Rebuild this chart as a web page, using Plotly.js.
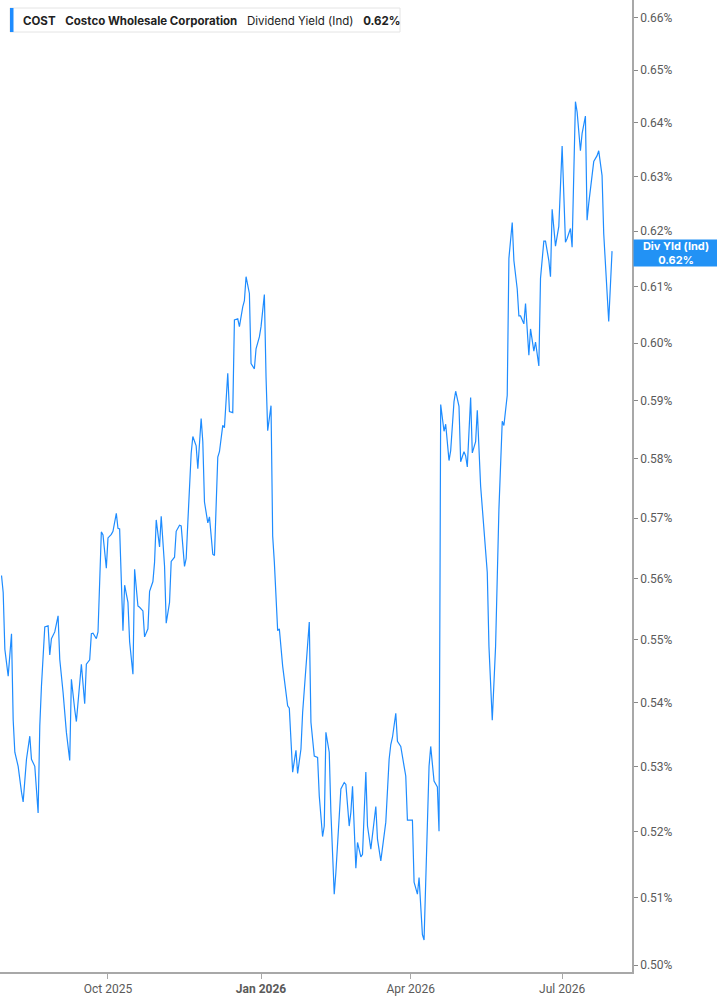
<!DOCTYPE html>
<html>
<head>
<meta charset="utf-8">
<script src="https://cdn.plot.ly/plotly-3.0.1.min.js"></script>
<style>
  html, body { margin: 0; padding: 0; background: #fff; }
  #chart { width: 717px; height: 1005px; }
</style>
</head>
<body>
<div id="chart"></div>
<script>
// COST dividend yield (indicated), daily, Jul 2025 - Jul 2026
const dates = [
  '2025-07-29','2025-07-30','2025-07-31','2025-08-01','2025-08-02','2025-08-04','2025-08-05','2025-08-06','2025-08-08','2025-08-10',
  '2025-08-11','2025-08-13','2025-08-15','2025-08-16','2025-08-18','2025-08-20','2025-08-21','2025-08-22','2025-08-24','2025-08-26',
  '2025-08-27','2025-08-28','2025-08-30','2025-09-01','2025-09-02','2025-09-04','2025-09-06','2025-09-08','2025-09-09','2025-09-11',
  '2025-09-12','2025-09-15','2025-09-17','2025-09-18','2025-09-20','2025-09-21','2025-09-22','2025-09-24','2025-09-25','2025-09-27',
  '2025-09-28','2025-09-30','2025-10-01','2025-10-03','2025-10-04','2025-10-06','2025-10-07','2025-10-08','2025-10-10','2025-10-11',
  '2025-10-13','2025-10-14','2025-10-16','2025-10-17','2025-10-19','2025-10-20','2025-10-22','2025-10-23','2025-10-25','2025-10-26',
  '2025-10-28','2025-10-29','2025-10-30','2025-11-01','2025-11-02','2025-11-04','2025-11-05','2025-11-07','2025-11-08','2025-11-10',
  '2025-11-11','2025-11-13','2025-11-14','2025-11-16','2025-11-17','2025-11-18','2025-11-20','2025-11-21','2025-11-23','2025-11-24',
  '2025-11-26','2025-11-27','2025-11-28','2025-11-30','2025-12-01','2025-12-03','2025-12-04','2025-12-06','2025-12-07','2025-12-09',
  '2025-12-10','2025-12-12','2025-12-13','2025-12-15','2025-12-16','2025-12-18','2025-12-19','2025-12-21','2025-12-22','2025-12-23',
  '2025-12-25','2025-12-26','2025-12-28','2025-12-29','2025-12-31','2026-01-01','2026-01-03','2026-01-04','2026-01-05','2026-01-07',
  '2026-01-08','2026-01-09','2026-01-10','2026-01-11','2026-01-12','2026-01-14','2026-01-17','2026-01-18','2026-01-20','2026-01-22',
  '2026-01-23','2026-01-25','2026-01-26','2026-01-28','2026-01-30','2026-01-31','2026-02-02','2026-02-04','2026-02-05','2026-02-07',
  '2026-02-08','2026-02-09','2026-02-11','2026-02-12','2026-02-14','2026-02-15','2026-02-17','2026-02-18','2026-02-20','2026-02-21',
  '2026-02-23','2026-02-24','2026-02-25','2026-02-27','2026-02-28','2026-03-02','2026-03-03','2026-03-05','2026-03-06','2026-03-08',
  '2026-03-11','2026-03-12','2026-03-14','2026-03-17','2026-03-19','2026-03-20','2026-03-21','2026-03-23','2026-03-24','2026-03-26',
  '2026-03-28','2026-03-29','2026-03-30','2026-04-02','2026-04-03','2026-04-05','2026-04-06','2026-04-08','2026-04-09','2026-04-12',
  '2026-04-13','2026-04-15','2026-04-17','2026-04-18','2026-04-19','2026-04-21','2026-04-22','2026-04-24','2026-04-25','2026-04-27',
  '2026-04-28','2026-04-30','2026-05-01','2026-05-03','2026-05-04','2026-05-05','2026-05-07','2026-05-08','2026-05-10','2026-05-11',
  '2026-05-13','2026-05-15','2026-05-17','2026-05-18','2026-05-20','2026-05-22','2026-05-24','2026-05-26','2026-05-27','2026-05-29',
  '2026-05-30','2026-06-01','2026-06-02','2026-06-04','2026-06-05','2026-06-06','2026-06-08','2026-06-09','2026-06-11','2026-06-12',
  '2026-06-14','2026-06-15','2026-06-17','2026-06-18','2026-06-20','2026-06-21','2026-06-23','2026-06-24','2026-06-25','2026-06-27',
  '2026-06-29','2026-07-01','2026-07-03','2026-07-04','2026-07-06','2026-07-07','2026-07-09','2026-07-10','2026-07-12','2026-07-13',
  '2026-07-15','2026-07-16','2026-07-17','2026-07-20','2026-07-22','2026-07-23','2026-07-25','2026-07-26','2026-07-28','2026-07-29',
  '2026-07-31'
];

// yield in percent
const divYield = [
  0.5605,0.5577,0.5485,0.5458,0.5442,0.5510,0.5373,0.5322,0.5300,0.5260,
  0.5245,0.5311,0.5347,0.5311,0.5300,0.5228,0.5363,0.5426,0.5521,0.5523,
  0.5476,0.5502,0.5513,0.5539,0.5469,0.5416,0.5353,0.5309,0.5437,0.5389,
  0.5370,0.5461,0.5398,0.5461,0.5468,0.5510,0.5511,0.5502,0.5513,0.5677,
  0.5672,0.5617,0.5667,0.5673,0.5678,0.5708,0.5683,0.5682,0.5515,0.5589,
  0.5561,0.5497,0.5445,0.5615,0.5555,0.5553,0.5547,0.5505,0.5518,0.5579,
  0.5595,0.5627,0.5697,0.5652,0.5703,0.5620,0.5527,0.5561,0.5628,0.5635,
  0.5678,0.5688,0.5687,0.5620,0.5633,0.5693,0.5809,0.5838,0.5822,0.5783,
  0.5869,0.5829,0.5727,0.5692,0.5702,0.5640,0.5638,0.5803,0.5812,0.5857,
  0.5853,0.5947,0.5881,0.5879,0.6041,0.6043,0.6029,0.6064,0.6075,0.6118,
  0.6088,0.5964,0.5955,0.5990,0.6011,0.6029,0.6086,0.5941,0.5848,0.5891,
  0.5670,0.5627,0.5566,0.5515,0.5518,0.5458,0.5395,0.5391,0.5291,0.5325,
  0.5289,0.5327,0.5384,0.5450,0.5529,0.5369,0.5316,0.5314,0.5254,0.5192,
  0.5208,0.5353,0.5322,0.5229,0.5105,0.5138,0.5223,0.5265,0.5275,0.5272,
  0.5208,0.5229,0.5269,0.5144,0.5183,0.5161,0.5165,0.5291,0.5208,0.5173,
  0.5238,0.5188,0.5155,0.5214,0.5311,0.5334,0.5345,0.5383,0.5339,0.5331,
  0.5300,0.5285,0.5217,0.5217,0.5123,0.5105,0.5130,0.5045,0.5037,0.5300,
  0.5331,0.5277,0.5268,0.5200,0.5893,0.5847,0.5859,0.5797,0.5814,0.5898,
  0.5916,0.5890,0.5795,0.5812,0.5805,0.5786,0.5905,0.5810,0.5829,0.5883,
  0.5754,0.5682,0.5610,0.5490,0.5372,0.5490,0.5715,0.5864,0.5857,0.5909,
  0.6151,0.6216,0.6147,0.6096,0.6048,0.6048,0.6034,0.6070,0.5979,0.6025,
  0.5986,0.6002,0.5960,0.6115,0.6182,0.6182,0.6147,0.6118,0.6240,0.6173,
  0.6209,0.6357,0.6180,0.6187,0.6205,0.6171,0.6440,0.6421,0.6348,0.6380,
  0.6413,0.6220,0.6251,0.6328,0.6339,0.6348,0.6302,0.6196,0.6088,0.6038,
  0.6164
];

const yTickVals = [0.50,0.51,0.52,0.53,0.54,0.55,0.56,0.57,0.58,0.59,0.60,0.61,0.62,0.63,0.64,0.65,0.66];
const xTickVals = ['2025-10-01','2026-01-01','2026-04-01','2026-07-01'];
const xTickText = ['Oct 2025','<b>Jan 2026</b>','Apr 2026','Jul 2026'];

const ticker = 'COST';
const company = 'Costco Wholesale Corporation';
const metric = 'Dividend Yield (Ind)';
const badgeLabel = 'Div Yld (Ind)';

const lineColor = '#1e8cff';
const badgeColor = '#2292f5';
const axisColor = '#a8a8a8';
const tickFontCfg = { family: 'Roboto, Arial, sans-serif', size: 12, color: '#5a5a5a' };

const last = divYield[divYield.length - 1];
const lastText = last.toFixed(2) + '%';

// plot area: 632 x 972 px
const plotW = 632, plotH = 972;
const px = v => v / plotW;
const py = v => 1 - v / plotH;

const trace = {
  x: dates,
  y: divYield,
  type: 'scatter',
  mode: 'lines',
  line: { color: lineColor, width: 1.2 },
  hoverinfo: 'x+y',
  showlegend: false
};

const gap = '\u00a0\u00a0\u00a0';

const layout = {
  width: 717,
  height: 1005,
  margin: { l: 0, r: 85, t: 0, b: 33 },
  paper_bgcolor: '#fff',
  plot_bgcolor: '#fff',
  showlegend: false,
  xaxis: {
    type: 'date',
    range: ['2025-07-28 02:00', '2026-08-12'],
    tickvals: xTickVals,
    ticktext: xTickText,
    ticks: 'outside',
    ticklen: 5,
    tickcolor: axisColor,
    showline: true,
    linecolor: axisColor,
    linewidth: 1.5,
    showgrid: false,
    zeroline: false,
    tickfont: tickFontCfg,
    automargin: false
  },
  yaxis: {
    type: 'log',
    side: 'right',
    range: [Math.log10(0.49899), Math.log10(0.66349)],
    tickvals: yTickVals,
    ticktext: yTickVals.map(v => v.toFixed(2) + '%'),
    ticks: 'outside',
    ticklen: 4,
    tickcolor: '#888',
    showline: true,
    linecolor: axisColor,
    linewidth: 1.5,
    showgrid: false,
    zeroline: false,
    tickfont: tickFontCfg,
    automargin: false
  },
  shapes: [
    // header box
    {
      type: 'rect', xref: 'paper', yref: 'paper',
      x0: px(10), x1: px(400), y0: py(32), y1: py(8),
      fillcolor: '#fff', line: { color: '#e4e4e4', width: 1 }, layer: 'above'
    },
    // blue accent on the left of the header
    {
      type: 'rect', xref: 'paper', yref: 'paper',
      x0: px(10), x1: px(13.5), y0: py(32), y1: py(8),
      fillcolor: lineColor, line: { width: 0 }, layer: 'above'
    }
  ],
  annotations: [
    {
      xref: 'paper', yref: 'paper',
      x: px(21), y: py(20.5),
      xanchor: 'left', yanchor: 'middle',
      showarrow: false,
      text: '<b>' + ticker + '</b>' + gap + '<b>' + company + '</b>' + gap + metric + gap + '<b>' + lastText + '</b>',
      font: { family: 'Inter, "Noto Sans", sans-serif', size: 11.5, color: '#222' }
    },
    {
      xref: 'paper', yref: 'y',
      x: 1, y: Math.log10(last),
      xanchor: 'left', yanchor: 'middle',
      xshift: 1, yshift: -2,
      showarrow: false,
      width: 84, height: 26,
      borderpad: 0,
      bgcolor: badgeColor,
      align: 'center',
      text: '<b>' + badgeLabel + '</b><br><b>' + lastText + '</b>',
      font: { family: 'Inter, "Noto Sans", sans-serif', size: 11, color: '#fff' }
    }
  ]
};

Plotly.newPlot('chart', [trace], layout, { displayModeBar: false, responsive: false });
</script>
</body>
</html>
